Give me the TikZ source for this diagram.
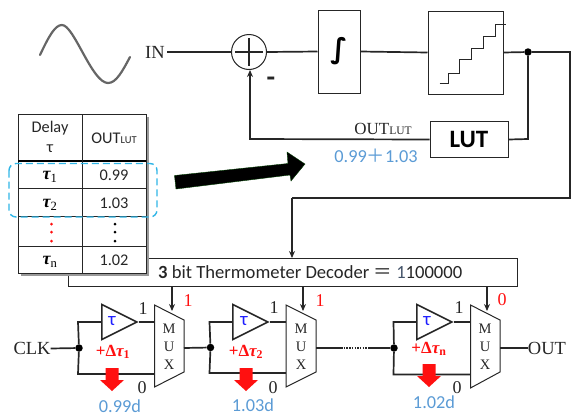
\documentclass[tikz,border=0pt]{standalone}
\usepackage{fontspec}
\setmainfont{Liberation Serif}
\newfontfamily\calb{Carlito}
\newfontfamily\cjkf{Noto Sans CJK SC}
\newfontfamily\dejav{DejaVu Sans}
\usetikzlibrary{arrows.meta,shapes.geometric,calc}
\definecolor{lnk}{HTML}{262626}
\definecolor{bluetxt}{HTML}{5B9BD5}
\definecolor{dashc}{HTML}{2FB5E6}
\definecolor{tblue}{HTML}{1F1FFF}
\definecolor{redc}{HTML}{FF1010}
\definecolor{slate}{HTML}{44546A}
\tikzset{
  wire/.style={draw=lnk,line width=1.7pt},
  arr/.style={wire,-{Stealth[length=7pt,width=6pt]}},
  box/.style={draw=lnk,line width=1pt,fill=white,inner sep=0pt},
  dotj/.style={circle,fill=black,inner sep=0pt,minimum size=7.5pt},
  amp/.style={isosceles triangle,isosceles triangle stretches,draw=lnk,line width=1.6pt,inner sep=0pt,minimum width=35pt,minimum height=35pt,fill=white,anchor=lower side},
  muxs/.style={draw=lnk,line width=1pt,fill=white},
  mlet/.style={font=\fontsize{14.5}{15}\selectfont,inner sep=0pt,text=lnk},
  blk/.style={font=\fontsize{18.5}{19}\selectfont,inner sep=0pt,text=lnk},
  num/.style={font=\fontsize{18}{18}\selectfont,inner sep=0pt,text=lnk},
  rednum/.style={font=\fontsize{18}{18}\selectfont,inner sep=0pt,text=redc},
  dl/.style={font=\fontsize{17}{17}\selectfont\bfseries,inner sep=0pt,text=redc},
  ampt/.style={font=\calb\fontsize{19}{19}\selectfont,inner sep=0pt,text=tblue},
  blu/.style={font=\calb\fontsize{18.3}{18}\selectfont,inner sep=0pt,text=bluetxt},
  tbl/.style={font=\calb\fontsize{16.3}{17}\selectfont,inner sep=0pt,text=lnk},
  tbi/.style={font=\fontsize{18}{18}\selectfont\bfseries\itshape,inner sep=0pt,text=black},
}
\begin{document}
\begin{tikzpicture}[x=1pt,y=-1pt]
\useasboundingbox (0,0) rectangle (574,416);
% input sine
\draw[color=black!60,line width=2.2pt,line cap=round] (40,55) .. controls (49,36) and (55,25) .. (62,25) .. controls (74,25) and (92,83) .. (108,83) .. controls (116,83) and (122,72) .. (130,57);
\node[blk] (in) at (155,52) {IN};
\node[circle,draw=lnk,line width=1pt,fill=white,minimum size=35pt,inner sep=0pt] (sum) at (249,52) {};
\draw[draw=lnk,line width=1.4pt] (sum.center)+(-14,0) -- +(14,0) (sum.center)+(0,-14) -- +(0,14);
\node[box,minimum width=42pt,minimum height=83pt] (int) at (339,51.5) {\fontsize{28}{28}\selectfont\bfseries\dejav ∫};
\node[box,minimum width=75pt,minimum height=83pt] (adc) at (465.5,52.5) {};
\draw[draw=lnk,line width=1.5pt] ($(adc.center)+(-26,31)$) -- ++(9,0) -- ++(0,-10) -- ++(11,0) -- ++(0,-14) -- ++(12,0) -- ++(0,-11) -- ++(12,0) -- ++(0,-12) -- ++(12,0) -- ++(0,-12) -- ++(10,0);
\node[box,minimum width=78pt,minimum height=36pt] (lut) at (469,139.5) {\calb\bfseries\fontsize{25}{25}\selectfont LUT};
\node[dotj] (j0) at (528,52) {};
\coordinate (rtop) at (570,52);
\coordinate (rbot) at (570,198);
\coordinate (dleft) at (292,198);
\coordinate (lutc) at (528,139);
\coordinate (fbc) at (250,139);
\draw[wire] (167,52) -- (sum.west);
\draw[wire] (sum.east) -- (int.west);
\draw[wire] (int.east) -- (adc.west);
\draw[wire] (adc.east) -- (j0) -- (rtop) -- (rbot) -- (dleft);
\draw[wire] (lut.east) -- (lutc) -- (j0);
\draw[arr] (lut.west) -- (fbc) -- (fbc |- sum.south);
\node[font=\calb\bfseries\fontsize{28}{28}\selectfont,inner sep=0pt,text=lnk] (minus) at (271,82) {-};
\node[font=\fontsize{17}{17}\selectfont,inner sep=0pt,text=lnk] (outlut) at (383,129) {OUT{\fontsize{11.5}{11.5}\selectfont LUT}};
\node[blu] (sumv) at (376,156) {0.99{\cjkf ＋}1.03};
% decoder
\node[draw=lnk,line width=1pt,fill=white,minimum width=449pt,minimum height=28pt,inner sep=0pt] (dec) at (292.5,272) {};
\node[font=\calb\fontsize{18.6}{19}\selectfont,inner sep=0pt,text=lnk,anchor=west] (dect) at (158,272.5) {\textbf{3} bit Thermometer Decoder {\cjkf ＝} {\color{slate}1}100000};
\coordinate (dectop) at (292,258);
\draw[arr,line width=1.4pt] (dleft) -- (dectop);
% table
\fill[black!40] (21,117) rectangle (149,276);
\node[draw=lnk,line width=1pt,fill=white,minimum width=128pt,minimum height=159pt,inner sep=0pt] (tab) at (82,193.5) {};
\foreach \yy in {188,216,246} \draw[draw=lnk,line width=1pt] (18,\yy) -- (146,\yy);
\draw[black,line width=2pt] (18,161) -- (146,161);
\draw[draw=lnk,line width=1pt] (82,114) -- (82,273);
\node[tbl] (h1) at (50,128) {Delay};
\node[tbl] (h2) at (50,149) {τ};
\node[tbl] (h3) at (114,138) {OUT{\fontsize{10.5}{10.5}\selectfont LUT}};
\node[tbi] (t1) at (50,177) {τ\textsubscript{\upshape\mdseries 1}};
\node[tbi] (t2) at (50,205) {τ\textsubscript{\upshape\mdseries 2}};
\node[tbi] (tn) at (50,262) {τ\textsubscript{\upshape\mdseries n}};
\node[tbl] (v1) at (114,175) {0.99};
\node[tbl] (v2) at (114,203) {1.03};
\node[tbl] (vn) at (114,260) {1.02};
\foreach \yy in {224,232,241} {\fill[redc] (51.5,\yy) circle (1.5pt); \fill[black] (115,\yy) circle (1.5pt);}
\draw[dashc,line width=1.4pt,dash pattern=on 7pt off 4pt,rounded corners=7pt] (9,163.5) rectangle (157,217);
% big arrow
\fill[black,draw=black!60!green!60!black,line width=.4pt] (174.5,175.5) -- (288,163.5) -- (287,152) -- (305,164) -- (291,181) -- (290,175) -- (176,189) -- cycle;
% stage 1
\node[blk] (clk) at (32,348.5) {CLK};
\node[dotj] (j1) at (79,348) {};
\node[amp] (a1) at (101,322) {};
\node[ampt] at (112,321) {τ};
\coordinate (c1t) at (78,322); \coordinate (c1b) at (78,374);
\coordinate (m1t) at (155,322); \coordinate (m1b) at (155,374); \coordinate (m1o) at (184,348);
\draw[wire] (clk.east) -- (j1);
\draw[wire] (j1) -- (c1t) -- (a1.lower side);
\draw[wire] (a1.apex) -- (m1t);
\draw[wire] (j1) -- (c1b) -- (m1b);
\draw[muxs] (154.5,305) -- (184,320) -- (184,372) -- (154.5,387) -- cycle;
% stage 2
\node[dotj] (j2) at (210.5,347.5) {};
\node[amp] (a2) at (232,322) {};
\node[ampt] at (244,321) {τ};
\coordinate (c2t) at (209.5,322); \coordinate (c2b) at (209.5,373);
\coordinate (m2t) at (286.5,322); \coordinate (m2b) at (286.5,373); \coordinate (m2o) at (316,348);
\draw[wire] (m1o) -- (j2);
\draw[wire] (j2) -- (c2t) -- (a2.lower side);
\draw[wire] (a2.apex) -- (m2t);
\draw[wire] (j2) -- (c2b) -- (m2b);
\draw[muxs] (286,305) -- (316,320) -- (316,372) -- (286,387) -- cycle;
% stage 3
\node[dotj] (j3) at (394,348) {};
\node[amp] (a3) at (416,322) {};
\node[ampt] at (427,321) {τ};
\coordinate (c3t) at (393.5,322); \coordinate (c3b) at (393.5,374.5);
\coordinate (m3t) at (470.5,322); \coordinate (m3b) at (470.5,374.5); \coordinate (m3o) at (500,348);
\coordinate (d1) at (341,348); \coordinate (d2) at (369,348);
\draw[wire] (m2o) -- (d1);
\draw[draw=lnk,line width=1.5pt,dash pattern=on 1.5pt off 1.2pt] (d1) -- (d2);
\draw[wire] (d2) -- (j3);
\draw[wire] (j3) -- (c3t) -- (a3.lower side);
\draw[wire] (a3.apex) -- (m3t);
\draw[wire] (j3) -- (c3b) -- (m3b);
\draw[muxs] (470.5,305) -- (500,320) -- (500,372) -- (470.5,388) -- cycle;
\node[blk] (out) at (547,348) {OUT};
\draw[wire] (m3o) -- (out.west);
% mux select arrows
\coordinate (s1) at (172,311); \coordinate (s2) at (303,311); \coordinate (s3) at (487,311);
\draw[arr,line width=1.3pt] (dec.south -| s1) -- (s1);
\draw[arr,line width=1.3pt] (dec.south -| s2) -- (s2);
\draw[arr,line width=1.3pt] (dec.south -| s3) -- (s3);
% mux letters
\foreach \xx/\nn in {169/1,301/2,485/3} {
 \node[mlet] (mM\nn) at (\xx,329) {M};
 \node[mlet] (mU\nn) at (\xx,347) {U};
 \node[mlet] (mX\nn) at (\xx,365) {X};}
% labels
\node[num] at (143,309) {1}; \node[num] at (274,308) {1}; \node[num] at (459,308) {1};
\node[num] at (142,388) {0}; \node[num] at (273,388) {0}; \node[num] at (457,388) {0};
\node[rednum] at (188,301) {1}; \node[rednum] at (320,301) {1}; \node[rednum] at (502,300) {0};
\node[dl] at (113,352) {+Δ{\itshape τ}\textsubscript{1}};
\node[dl] at (246,352) {+Δ{\itshape τ}\textsubscript{2}};
\node[dl] at (429,349) {+Δ{\itshape τ}\textsubscript{n}};
% red arrows
\foreach \xx/\yy in {112/368,246/368,429/364} \fill[redc] (\xx-6.5,\yy) -- (\xx+6.5,\yy) -- (\xx+6.5,\yy+12) -- (\xx+12,\yy+12) -- (\xx,\yy+23) -- (\xx-12,\yy+12) -- (\xx-6.5,\yy+12) -- cycle;
\node[blu] at (120,406) {0.99d};
\node[blu] at (253,405) {1.03d};
\node[blu] at (434,402) {1.02d};
\end{tikzpicture}
\end{document}
